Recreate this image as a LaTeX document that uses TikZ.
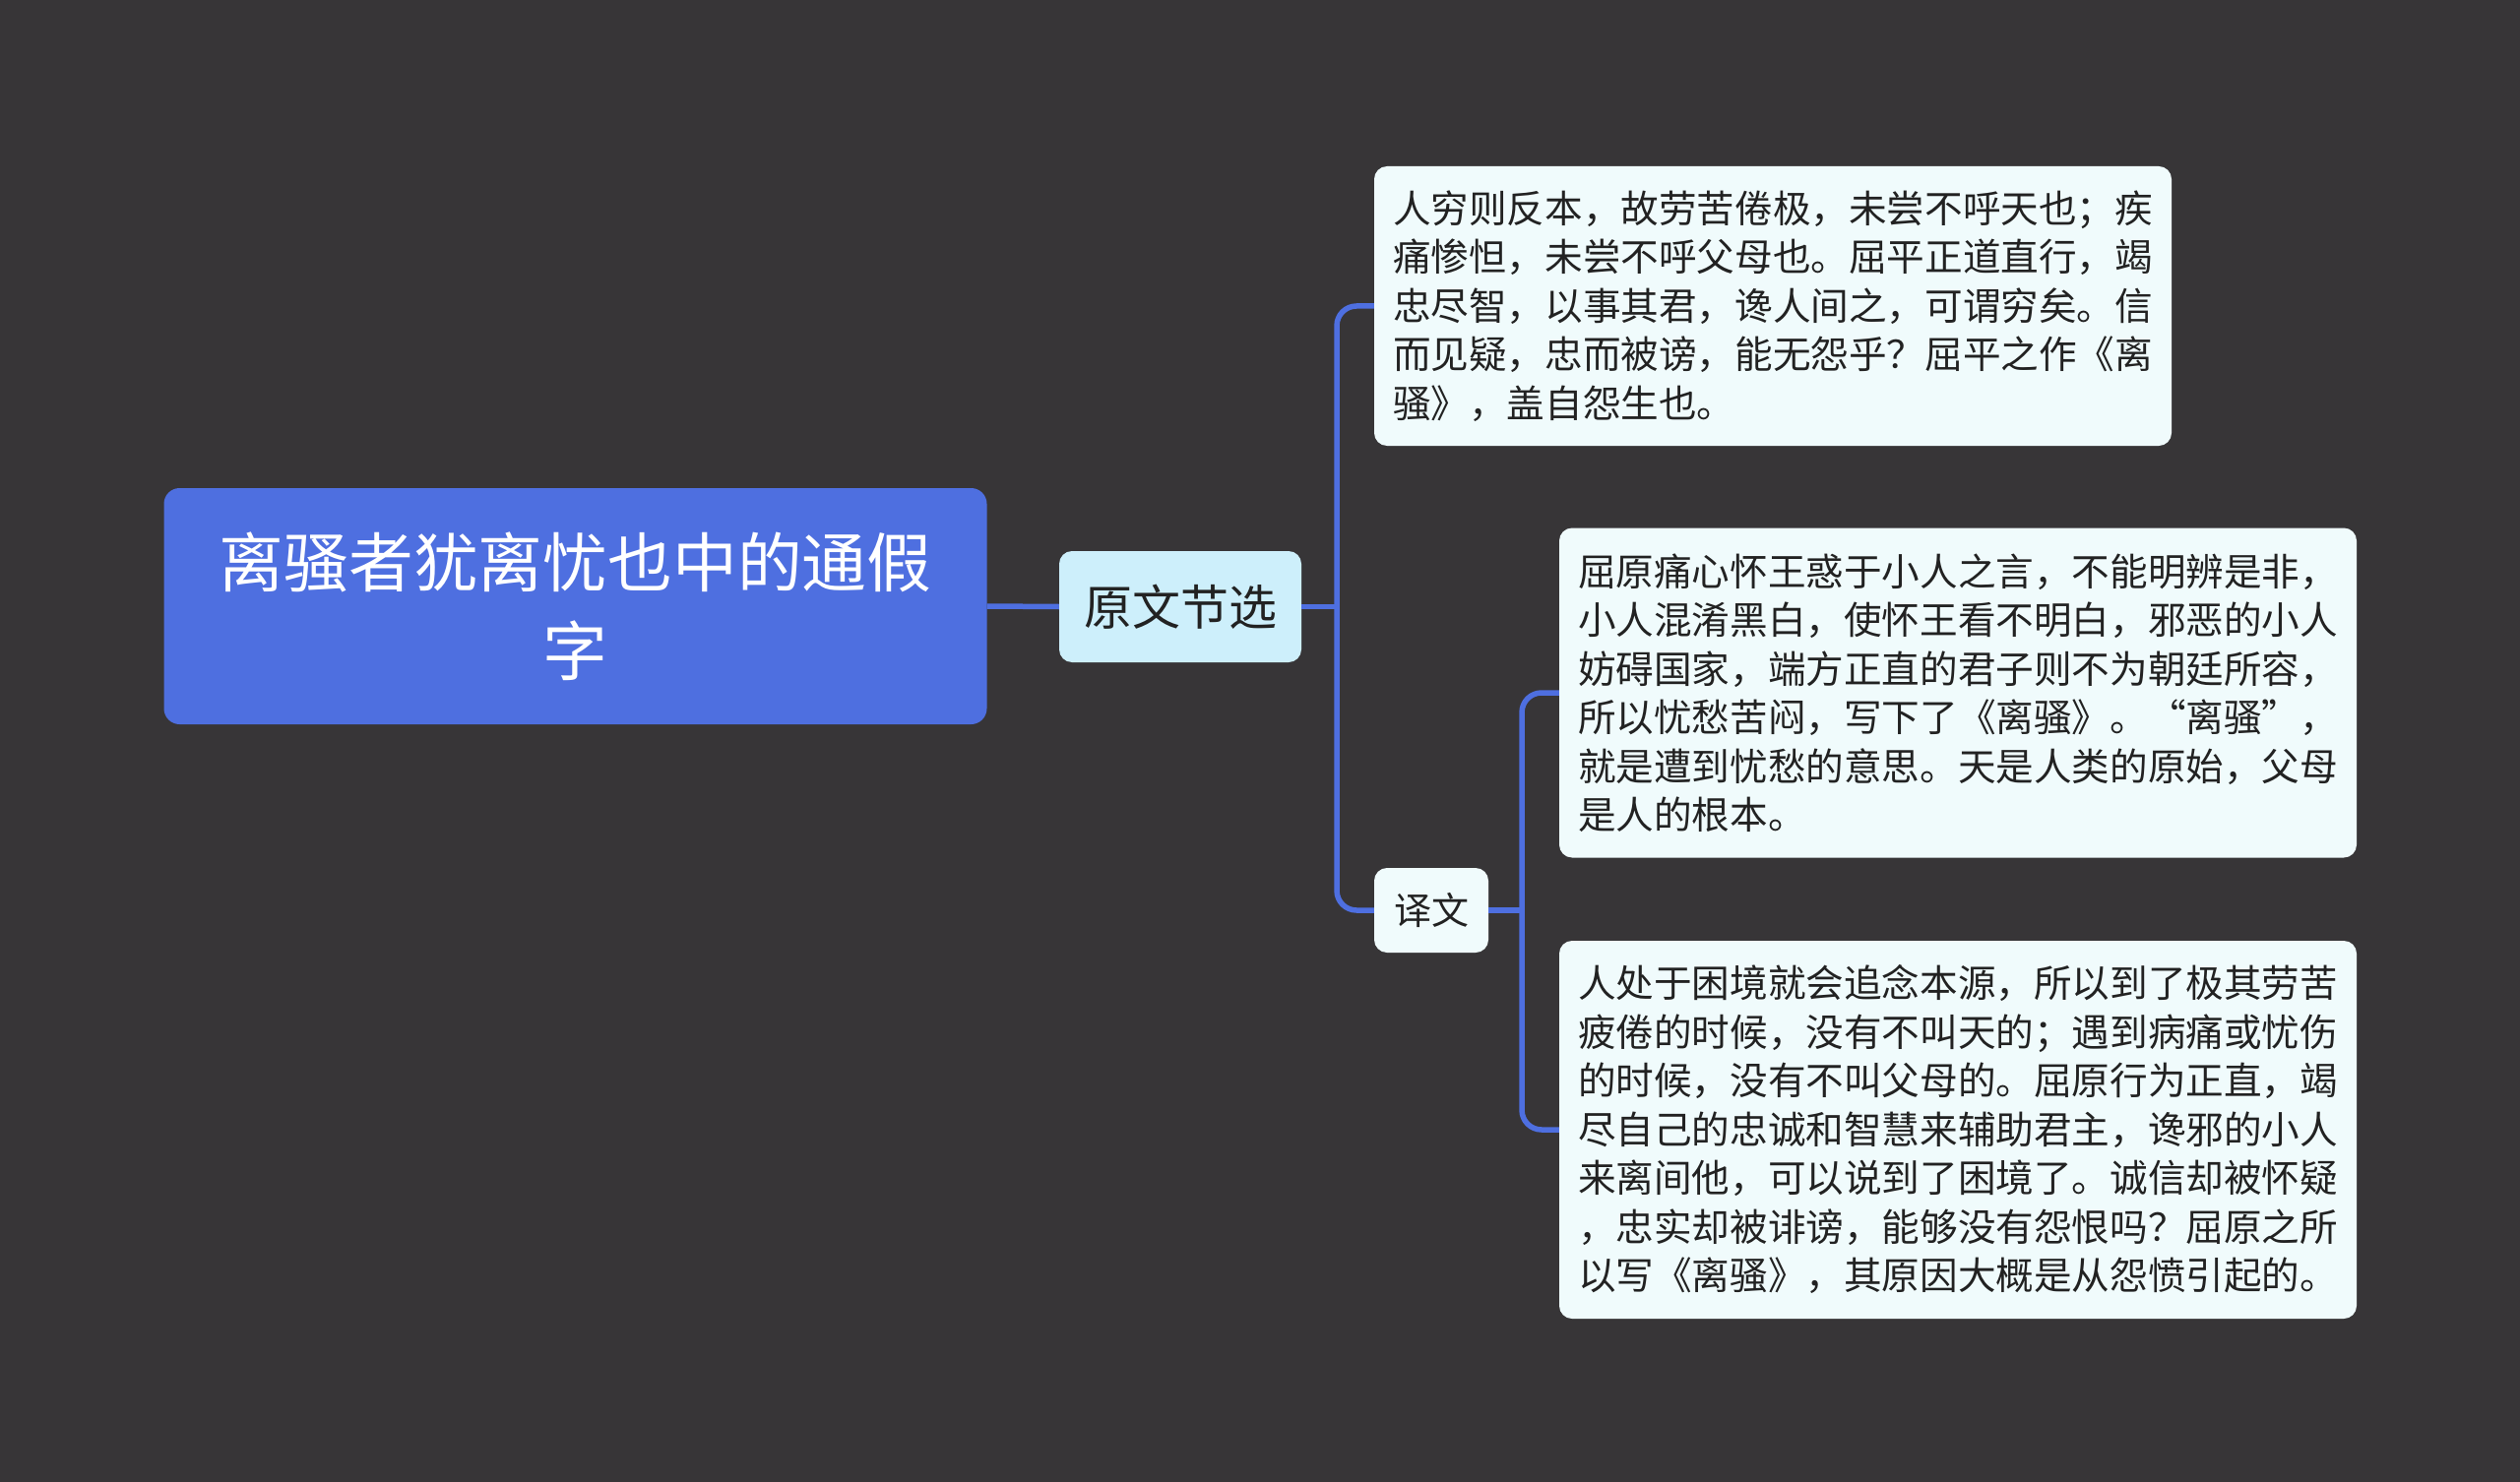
\documentclass[tikz,border=0pt]{standalone}
\usepackage{fontspec}
\setmainfont{Noto Sans CJK SC}
\definecolor{bg}{HTML}{373537}
\definecolor{rootblue}{HTML}{4E6FE0}
\definecolor{subfill}{HTML}{CDEFFB}
\definecolor{leaffill}{HTML}{F0FBFC}
\definecolor{ink}{HTML}{222222}
\begin{document}
\begin{tikzpicture}[x=1pt,y=-1pt,
  rootbox/.style={fill=rootblue, rounded corners=16pt, text=white, inner sep=0pt, align=center,
    minimum width=836pt, minimum height=240pt, font=\fontsize{65.8}{90}\selectfont},
  subbox/.style={fill=subfill, rounded corners=13pt, text=ink, inner sep=0pt, align=center,
    font=\fontsize{49}{60}\selectfont},
  leafbox/.style={fill=leaffill, rounded corners=13pt, text=ink, inner sep=0pt, align=left,
    font=\fontsize{38.6}{49.5}\selectfont},
  conn/.style={draw=rootblue, line width=5.5pt, rounded corners=20pt}]
\fill[bg] (0,0) rectangle (2560,1506);
\useasboundingbox (0,0) rectangle (2560,1506);

\coordinate (j1) at (1358,616.5);
\coordinate (j2) at (1546,925);

\node[rootbox] (root) at (584.5,616) {离骚者犹离忧也中的通假\\字};
\node[subbox, minimum width=246pt, minimum height=113pt] (yw) at (1199,616.5) {原文节选};
\node[subbox, fill=leaffill, minimum width=116pt, minimum height=86pt, font=\fontsize{38}{46}\selectfont] (yiwen) at (1454,925) {译文};

\node[leafbox, minimum width=810pt, minimum height=284pt] (t1) at (1801,311) {人穷则反本，故劳苦倦极，未尝不呼天也；疾\\痛惨怛，未尝不呼父母也。屈平正道直行，竭\\忠尽智，以事其君，谗人间之，可谓穷矣。信\\而见疑，忠而被谤，能无怨乎？屈平之作《离\\骚》，盖自怨生也。};
\node[leafbox, minimum width=810pt, minimum height=335pt] (t2) at (1989,704) {屈原痛心怀王惑于小人之言，不能明辨是非，\\小人混淆黑白，使怀王看不明白，邪恶的小人\\妨碍国家，端方正直的君子则不为朝廷所容，\\所以忧愁苦闷，写下了《离骚》。“离骚”，\\就是遭到忧愁的意思。天是人类的原始，父母\\是人的根本。};
\node[leafbox, minimum width=810pt, minimum height=384pt] (t3) at (1989,1148) {人处于困境就会追念本源，所以到了极其劳苦\\疲倦的时候，没有不叫天的；遇到病痛或忧伤\\的时候，没有不叫父母的。屈原行为正直，竭\\尽自己的忠诚和智慧来辅助君主，谗邪的小人\\来离间他，可以说到了困境了。诚信却被怀疑\\，忠实却被诽谤，能够没有怨恨吗？屈原之所\\以写《离骚》，其原因大概是从怨愤引起的。};

\begin{scope}[on background layer/.try]
\end{scope}
\draw[conn] (root.east) -- (yw.west);
\draw[conn] (yw.east) -- (j1);
\draw[conn] (t1.west) -| (j1) |- (yiwen.west);
\draw[conn] (yiwen.east) -- (j2);
\draw[conn] (t2.west) -| (j2) |- (t3.west);
\end{tikzpicture}
\end{document}
